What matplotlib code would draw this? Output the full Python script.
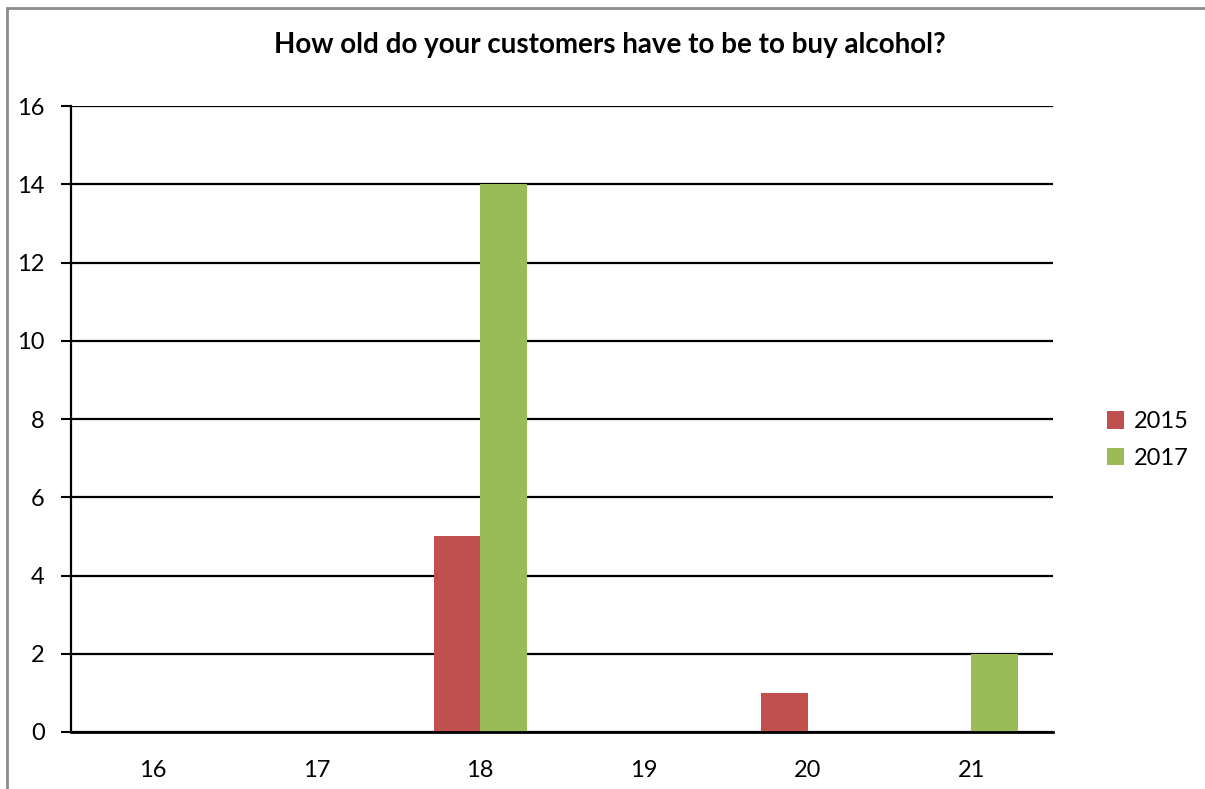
import matplotlib.pyplot as plt
import numpy as np
from matplotlib.patches import Rectangle

# Minimum age answers, count of shops per survey year
ages = ["16", "17", "18", "19", "20", "21"]
counts_2015 = [0, 0, 5, 0, 1, 0]
counts_2017 = [0, 0, 14, 0, 0, 2]

plt.rcParams['font.family'] = ['Lato', 'DejaVu Sans']

fig = plt.figure(figsize=(12.05, 7.89), dpi=100)
W, H = 1205, 789

# chart frame (runs off the right and bottom edges)
fig.patches.append(Rectangle((7 / W, -0.1), 1.1, 1.1 - 8 / H,
                             transform=fig.transFigure, fill=False,
                             edgecolor='#8c8c8c', linewidth=2))

ax = fig.add_axes([71 / W, 1 - 732 / H, (1053 - 71) / W, (732 - 106) / H])

x = np.arange(len(ages))
bw = 0.285
ax.bar(x - bw / 2, counts_2015, bw, color='#C0504D', label='2015', zorder=3)
ax.bar(x + bw / 2, counts_2017, bw, color='#9BBB59', label='2017', zorder=3)

ax.set_xlim(-0.5, len(ages) - 0.5)
ax.set_ylim(0, 16)
ax.set_yticks(range(0, 17, 2))
ax.set_xticks(x)
ax.set_xticklabels(ages)
ax.tick_params(axis='x', length=0, pad=20, labelsize=17)
ax.tick_params(axis='y', length=7, width=1.5, pad=12, labelsize=17)
ax.yaxis.grid(True, color='black', linewidth=1.6, zorder=0)
for s in ['top', 'right']:
    ax.spines[s].set_visible(False)
ax.spines['left'].set_linewidth(1.6)
ax.spines['bottom'].set_linewidth(2)
ax.spines['bottom'].set_zorder(4)

fig.text(610 / W, 1 - 45 / H, "How old do your customers have to be to buy alcohol?",
         ha='center', va='center', fontsize=20, fontweight='bold')

ax.legend(loc='center left', bbox_to_anchor=(1090 / W, 1 - 440 / H),
          bbox_transform=fig.transFigure, frameon=False, fontsize=17,
          handlelength=0.75, handleheight=0.75, handletextpad=0.4,
          labelspacing=0.65, borderpad=0.2)

fig.savefig('out.png', dpi=100)
